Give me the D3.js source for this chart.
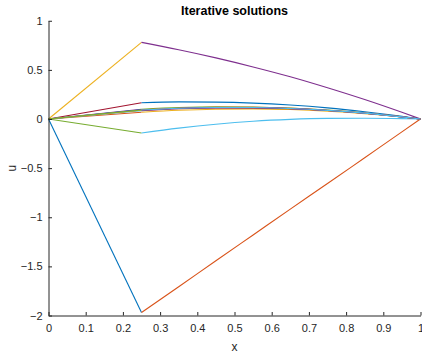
<!DOCTYPE html>
<html>
<head>
<meta charset="utf-8">
<script src="https://cdn.jsdelivr.net/npm/d3@7"></script>
<style>
  html, body { margin: 0; padding: 0; background: #fff; }
  svg { display: block; font-family: "Liberation Sans", Arial, Helvetica, sans-serif; }
</style>
</head>
<body>
<svg id="chart" width="422" height="356"></svg>
<script>
// First piece of every iterate: straight segment from x = 0 to the interface at x = 0.25
const segX = [0, 0.25];
// Second piece: smooth solution on [0.25, 1]
const curveX = [0.25, 0.35, 0.45, 0.55, 0.65, 0.75, 0.85, 0.95, 1];

// Value of each iterate at the interface x = 0.25
const interfaceU = [-1.97, 0.78, -0.142, 0.166, 0.068, 0.100, 0.085, 0.093, 0.089, 0.091];

// Values of each iterate on curveX
const curve1  = [-1.97, -1.707, -1.443, -1.18, -0.917, -0.657, -0.394, -0.131, 0];
const curve2  = [0.78, 0.705, 0.622, 0.53, 0.43, 0.318, 0.198, 0.068, 0];
const curve3  = [-0.142, -0.093, -0.053, -0.023, -0.004, 0.006, 0.008, 0.004, 0];
const curve4  = [0.166, 0.174, 0.172, 0.162, 0.142, 0.113, 0.074, 0.027, 0];
const curve5  = [0.068, 0.089, 0.100, 0.103, 0.096, 0.080, 0.055, 0.021, 0];
const curve6  = [0.100, 0.117, 0.124, 0.122, 0.111, 0.091, 0.061, 0.023, 0];
const curve7  = [0.085, 0.104, 0.113, 0.113, 0.104, 0.086, 0.058, 0.022, 0];
const curve8  = [0.093, 0.110, 0.119, 0.118, 0.108, 0.088, 0.060, 0.022, 0];
const curve9  = [0.089, 0.107, 0.116, 0.116, 0.106, 0.087, 0.059, 0.022, 0];
const curve10 = [0.091, 0.109, 0.117, 0.117, 0.107, 0.088, 0.060, 0.022, 0];
const curves = [curve1, curve2, curve3, curve4, curve5, curve6, curve7, curve8, curve9, curve10];

// Default colour order, cycled over every plotted piece
const colorOrder = ["#0072BD", "#D95319", "#EDB120", "#7E2F8E", "#77AC30", "#4DBEEE", "#A2142F"];

const xTicks = [0, 0.1, 0.2, 0.3, 0.4, 0.5, 0.6, 0.7, 0.8, 0.9, 1];
const yTicks = [1, 0.5, 0, -0.5, -1, -1.5, -2];

const titleText = "Iterative solutions";
const xLabel = "x";
const yLabel = "u";

const axisColor = "#262626";
const svg = d3.select("#chart");

const x = d3.scaleLinear().domain([0, 1]).range([48.5, 420.5]);
const y = d3.scaleLinear().domain([-2, 1]).range([315.5, 20.75]);

const line = d3.line().x(d => x(d[0])).y(d => y(d[1]));
const smooth = d3.line().x(d => x(d[0])).y(d => y(d[1])).curve(d3.curveMonotoneX);

// Plot pieces in order: segment then curve for each iterate
const plot = svg.append("g").attr("fill", "none").attr("stroke-width", 1.1);
let k = 0;
curves.forEach((cv, i) => {
  const seg = segX.map((xx, j) => [xx, j === 0 ? 0 : interfaceU[i]]);
  plot.append("path")
    .attr("d", line(seg))
    .attr("stroke", colorOrder[k++ % colorOrder.length]);
  plot.append("path")
    .attr("d", smooth(curveX.map((xx, j) => [xx, cv[j]])))
    .attr("stroke", colorOrder[k++ % colorOrder.length]);
});

// Axes with inward ticks
const xAxis = d3.axisBottom(x).tickValues(xTicks).tickSizeInner(-3.5).tickSizeOuter(0)
  .tickFormat(d3.format("~g"));
const yAxis = d3.axisLeft(y).tickValues(yTicks).tickSizeInner(-3.5).tickSizeOuter(0)
  .tickFormat(d3.format("~g"));

const gx = svg.append("g").attr("transform", `translate(0,${y(-2)})`).call(xAxis);
const gy = svg.append("g").attr("transform", `translate(${x(0)},0)`).call(yAxis);

[gx, gy].forEach(g => {
  g.select(".domain").attr("stroke", axisColor).attr("stroke-width", 1);
  g.selectAll(".tick line").attr("stroke", axisColor).attr("stroke-width", 1);
  g.selectAll(".tick text").attr("fill", axisColor).attr("font-size", 11)
    .attr("font-family", "'Liberation Sans', Arial, sans-serif");
});
gx.selectAll(".tick text").attr("dy", "0.71em").attr("y", 9);
gy.selectAll(".tick text").attr("x", -6).attr("dy", "0.32em");

// Title and axis labels
svg.append("text")
  .attr("x", (x(0) + x(1)) / 2).attr("y", 15)
  .attr("text-anchor", "middle").attr("font-size", 12.5).attr("font-weight", "bold")
  .attr("fill", "#000").text(titleText);

svg.append("text")
  .attr("x", (x(0) + x(1)) / 2).attr("y", 351)
  .attr("text-anchor", "middle").attr("font-size", 12)
  .attr("fill", axisColor).text(xLabel);

svg.append("text")
  .attr("transform", `translate(16,${(y(1) + y(-2)) / 2}) rotate(-90)`)
  .attr("text-anchor", "middle").attr("font-size", 12)
  .attr("fill", axisColor).text(yLabel);
</script>
</body>
</html>
